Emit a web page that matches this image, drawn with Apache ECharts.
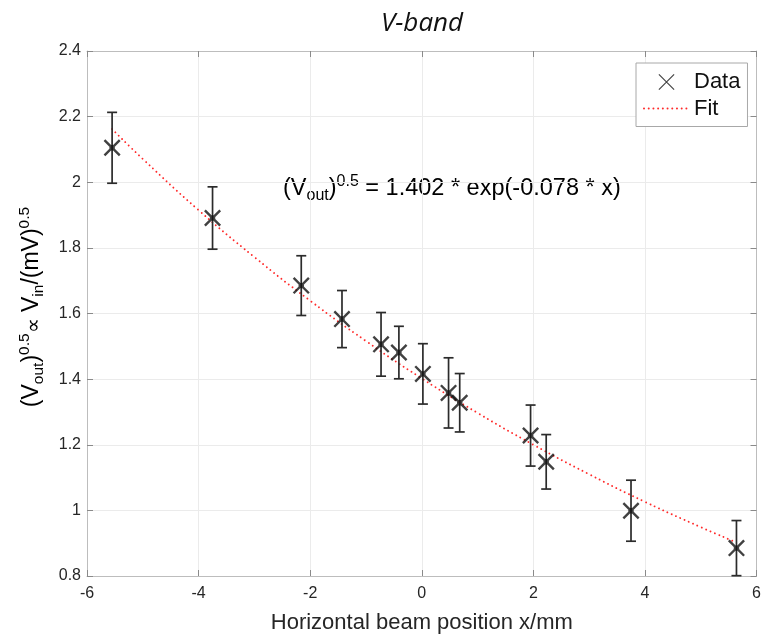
<!DOCTYPE html>
<html>
<head>
<meta charset="utf-8">
<title>V-band</title>
<script src="https://cdn.jsdelivr.net/npm/echarts@6/dist/echarts.min.js"></script>
<style>
  html, body { margin: 0; padding: 0; background: #ffffff; }
  #chart { width: 764px; height: 639px; }
</style>
</head>
<body>
<div id="chart"></div>
<script>
// Measured beam positions (mm), sqrt of output voltage and its uncertainty
const xPos = [-5.55, -3.75, -2.16, -1.43, -0.73, -0.41, 0.02, 0.48, 0.68, 1.95, 2.23, 3.75, 5.64];
const yVal = [2.105, 1.891, 1.685, 1.583, 1.506, 1.481, 1.416, 1.358, 1.328, 1.228, 1.148, 0.999, 0.885];
const yErr = [0.108, 0.095, 0.091, 0.087, 0.097, 0.080, 0.092, 0.107, 0.089, 0.093, 0.083, 0.093, 0.084];

// Exponential fit curve, sampled along the beam position
const fitX = [-5.55, -5, -4, -3, -2, -1, 0, 1, 2, 3, 4, 5, 5.6];
const fitY = [2.162, 2.071, 1.915, 1.772, 1.639, 1.516, 1.402, 1.297, 1.200, 1.110, 1.026, 0.949, 0.905];

// Axis ranges and ticks
const xTicks = { min: -6, max: 6, step: 2 };
const yTicks = { min: 0.8, max: 2.4, step: 0.2 };

const FONT = '"Liberation Sans", Arial, Helvetica, sans-serif';
const TEXT = '#262626';

// Bold cross with a filled centre for the data points, thin cross for the legend
const markerPath = 'path://M2,0 L0,2 L18,20 L20,18 Z M18,0 L0,18 L2,20 L20,2 Z M6.8,6.8 L6.8,13.2 L13.2,13.2 L13.2,6.8 Z';
const legendCross = 'path://M1,0 L0,1 L19,20 L20,19 Z M19,0 L0,19 L1,20 L20,1 Z';

function richSet(main, small) {
  return {
    p:   { fontFamily: FONT, fontSize: main, color: TEXT, lineHeight: 30, verticalAlign: 'middle' },
    sup: { fontFamily: FONT, fontSize: small, color: TEXT, lineHeight: 13, verticalAlign: 'top' },
    sub: { fontFamily: FONT, fontSize: small, color: TEXT, lineHeight: 12, verticalAlign: 'bottom' },
    pr:  { fontFamily: FONT, fontSize: main - 2, color: '#555555', lineHeight: 30, verticalAlign: 'middle', padding: [4, 0, 0, 0] }
  };
}

const chart = echarts.init(document.getElementById('chart'), null, { renderer: 'canvas' });

const axisLineStyle = { color: '#bdbdbd', width: 1 };
const tickStyle = { color: '#8a8a8a', width: 1 };
const fitLine = { color: '#ff2a2a', width: 1.9, type: [0.01, 4.7], cap: 'round' };

chart.setOption({
  animation: false,
  backgroundColor: '#ffffff',
  title: {
    text: 'V-band',
    left: 417,
    textAlign: 'center',
    top: 6,
    textStyle: { fontFamily: '"Open Sans", "Liberation Sans", sans-serif', fontStyle: 'italic', fontWeight: 'normal', fontSize: 26, color: '#111111' }
  },
  grid: { left: 87, right: 5, top: 51, bottom: 57, containLabel: false },
  legend: {
    orient: 'vertical',
    left: 636,
    top: 63,
    padding: [8, 7, 7, 7],
    itemGap: 4.5,
    itemWidth: 45,
    itemHeight: 16,
    borderColor: '#a8a8a8',
    borderWidth: 1,
    backgroundColor: '#ffffff',
    selectedMode: false,
    textStyle: { fontFamily: FONT, fontSize: 22, color: '#111111', lineHeight: 22 },
    data: [
      { name: 'Data', icon: legendCross },
      { name: 'Fit', itemStyle: { opacity: 0 } }
    ]
  },
  xAxis: [
    {
      type: 'value', min: xTicks.min, max: xTicks.max, interval: xTicks.step,
      name: 'Horizontal beam position x/mm', nameLocation: 'middle', nameGap: 36,
      nameTextStyle: { fontFamily: FONT, fontSize: 22, color: TEXT },
      axisLine: { show: true, onZero: false, lineStyle: axisLineStyle },
      axisTick: { show: true, inside: true, length: 6, lineStyle: tickStyle },
      axisLabel: { fontFamily: FONT, fontSize: 16, color: TEXT, margin: 10 },
      splitLine: { show: true, lineStyle: { color: '#ebebeb', width: 1 } }
    },
    {
      type: 'value', position: 'top', min: xTicks.min, max: xTicks.max, interval: xTicks.step,
      axisLine: { show: true, onZero: false, lineStyle: axisLineStyle },
      axisTick: { show: true, inside: true, length: 6, lineStyle: tickStyle },
      axisLabel: { show: false },
      splitLine: { show: false }
    }
  ],
  yAxis: [
    {
      type: 'value', min: yTicks.min, max: yTicks.max, interval: yTicks.step,
      axisLine: { show: true, onZero: false, lineStyle: axisLineStyle },
      axisTick: { show: true, inside: true, length: 6, lineStyle: tickStyle },
      axisLabel: { fontFamily: FONT, fontSize: 16, color: TEXT, margin: 6 },
      splitLine: { show: true, lineStyle: { color: '#ebebeb', width: 1 } }
    },
    {
      type: 'value', position: 'right', min: yTicks.min, max: yTicks.max, interval: yTicks.step,
      axisLine: { show: true, onZero: false, lineStyle: axisLineStyle },
      axisTick: { show: true, inside: true, length: 6, lineStyle: tickStyle },
      axisLabel: { show: false },
      splitLine: { show: false }
    }
  ],
  graphic: [
    {
      type: 'text',
      x: 32, y: 307,
      rotation: Math.PI / 2,
      style: {
        text: '{p|(V}{sub|out}{p|)}{sup|0.5}{pr|\u221D}{p| V}{sub|in}{p|/(mV)}{sup|0.5}',
        rich: richSet(23, 15.5),
        align: 'center',
        verticalAlign: 'middle'
      }
    },
    {
      type: 'text',
      x: 283, y: 189,
      style: {
        text: '{p|(V}{sub|out}{p|)}{sup|0.5}{p| = 1.402 * exp(-0.078 * x)}',
        rich: richSet(23.5, 16),
        align: 'left',
        verticalAlign: 'middle'
      }
    }
  ],
  series: [
    {
      name: 'Fit',
      type: 'line',
      data: fitX.map((x, i) => [x, fitY[i]]),
      smooth: true,
      symbol: 'none',
      z: 2,
      lineStyle: fitLine,
      itemStyle: { color: '#ff2a2a' }
    },
    {
      name: 'Errors',
      type: 'custom',
      z: 3,
      data: xPos.map((x, i) => [x, yVal[i], yErr[i]]),
      encode: { x: 0, y: 1 },
      renderItem: function (params, api) {
        const x = api.value(0), y = api.value(1), e = api.value(2);
        const top = api.coord([x, y + e]);
        const bot = api.coord([x, y - e]);
        const half = 5;
        const style = { stroke: '#2b2b2b', lineWidth: 1.7 };
        return {
          type: 'group',
          children: [
            { type: 'line', shape: { x1: top[0], y1: top[1], x2: bot[0], y2: bot[1] }, style: style },
            { type: 'line', shape: { x1: top[0] - half, y1: top[1], x2: top[0] + half, y2: top[1] }, style: style },
            { type: 'line', shape: { x1: bot[0] - half, y1: bot[1], x2: bot[0] + half, y2: bot[1] }, style: style }
          ]
        };
      }
    },
    {
      name: 'Data',
      type: 'scatter',
      z: 4,
      data: xPos.map((x, i) => [x, yVal[i]]),
      symbol: markerPath,
      symbolSize: 17,
      itemStyle: { color: '#111111' }
    }
  ]
});
</script>
</body>
</html>
